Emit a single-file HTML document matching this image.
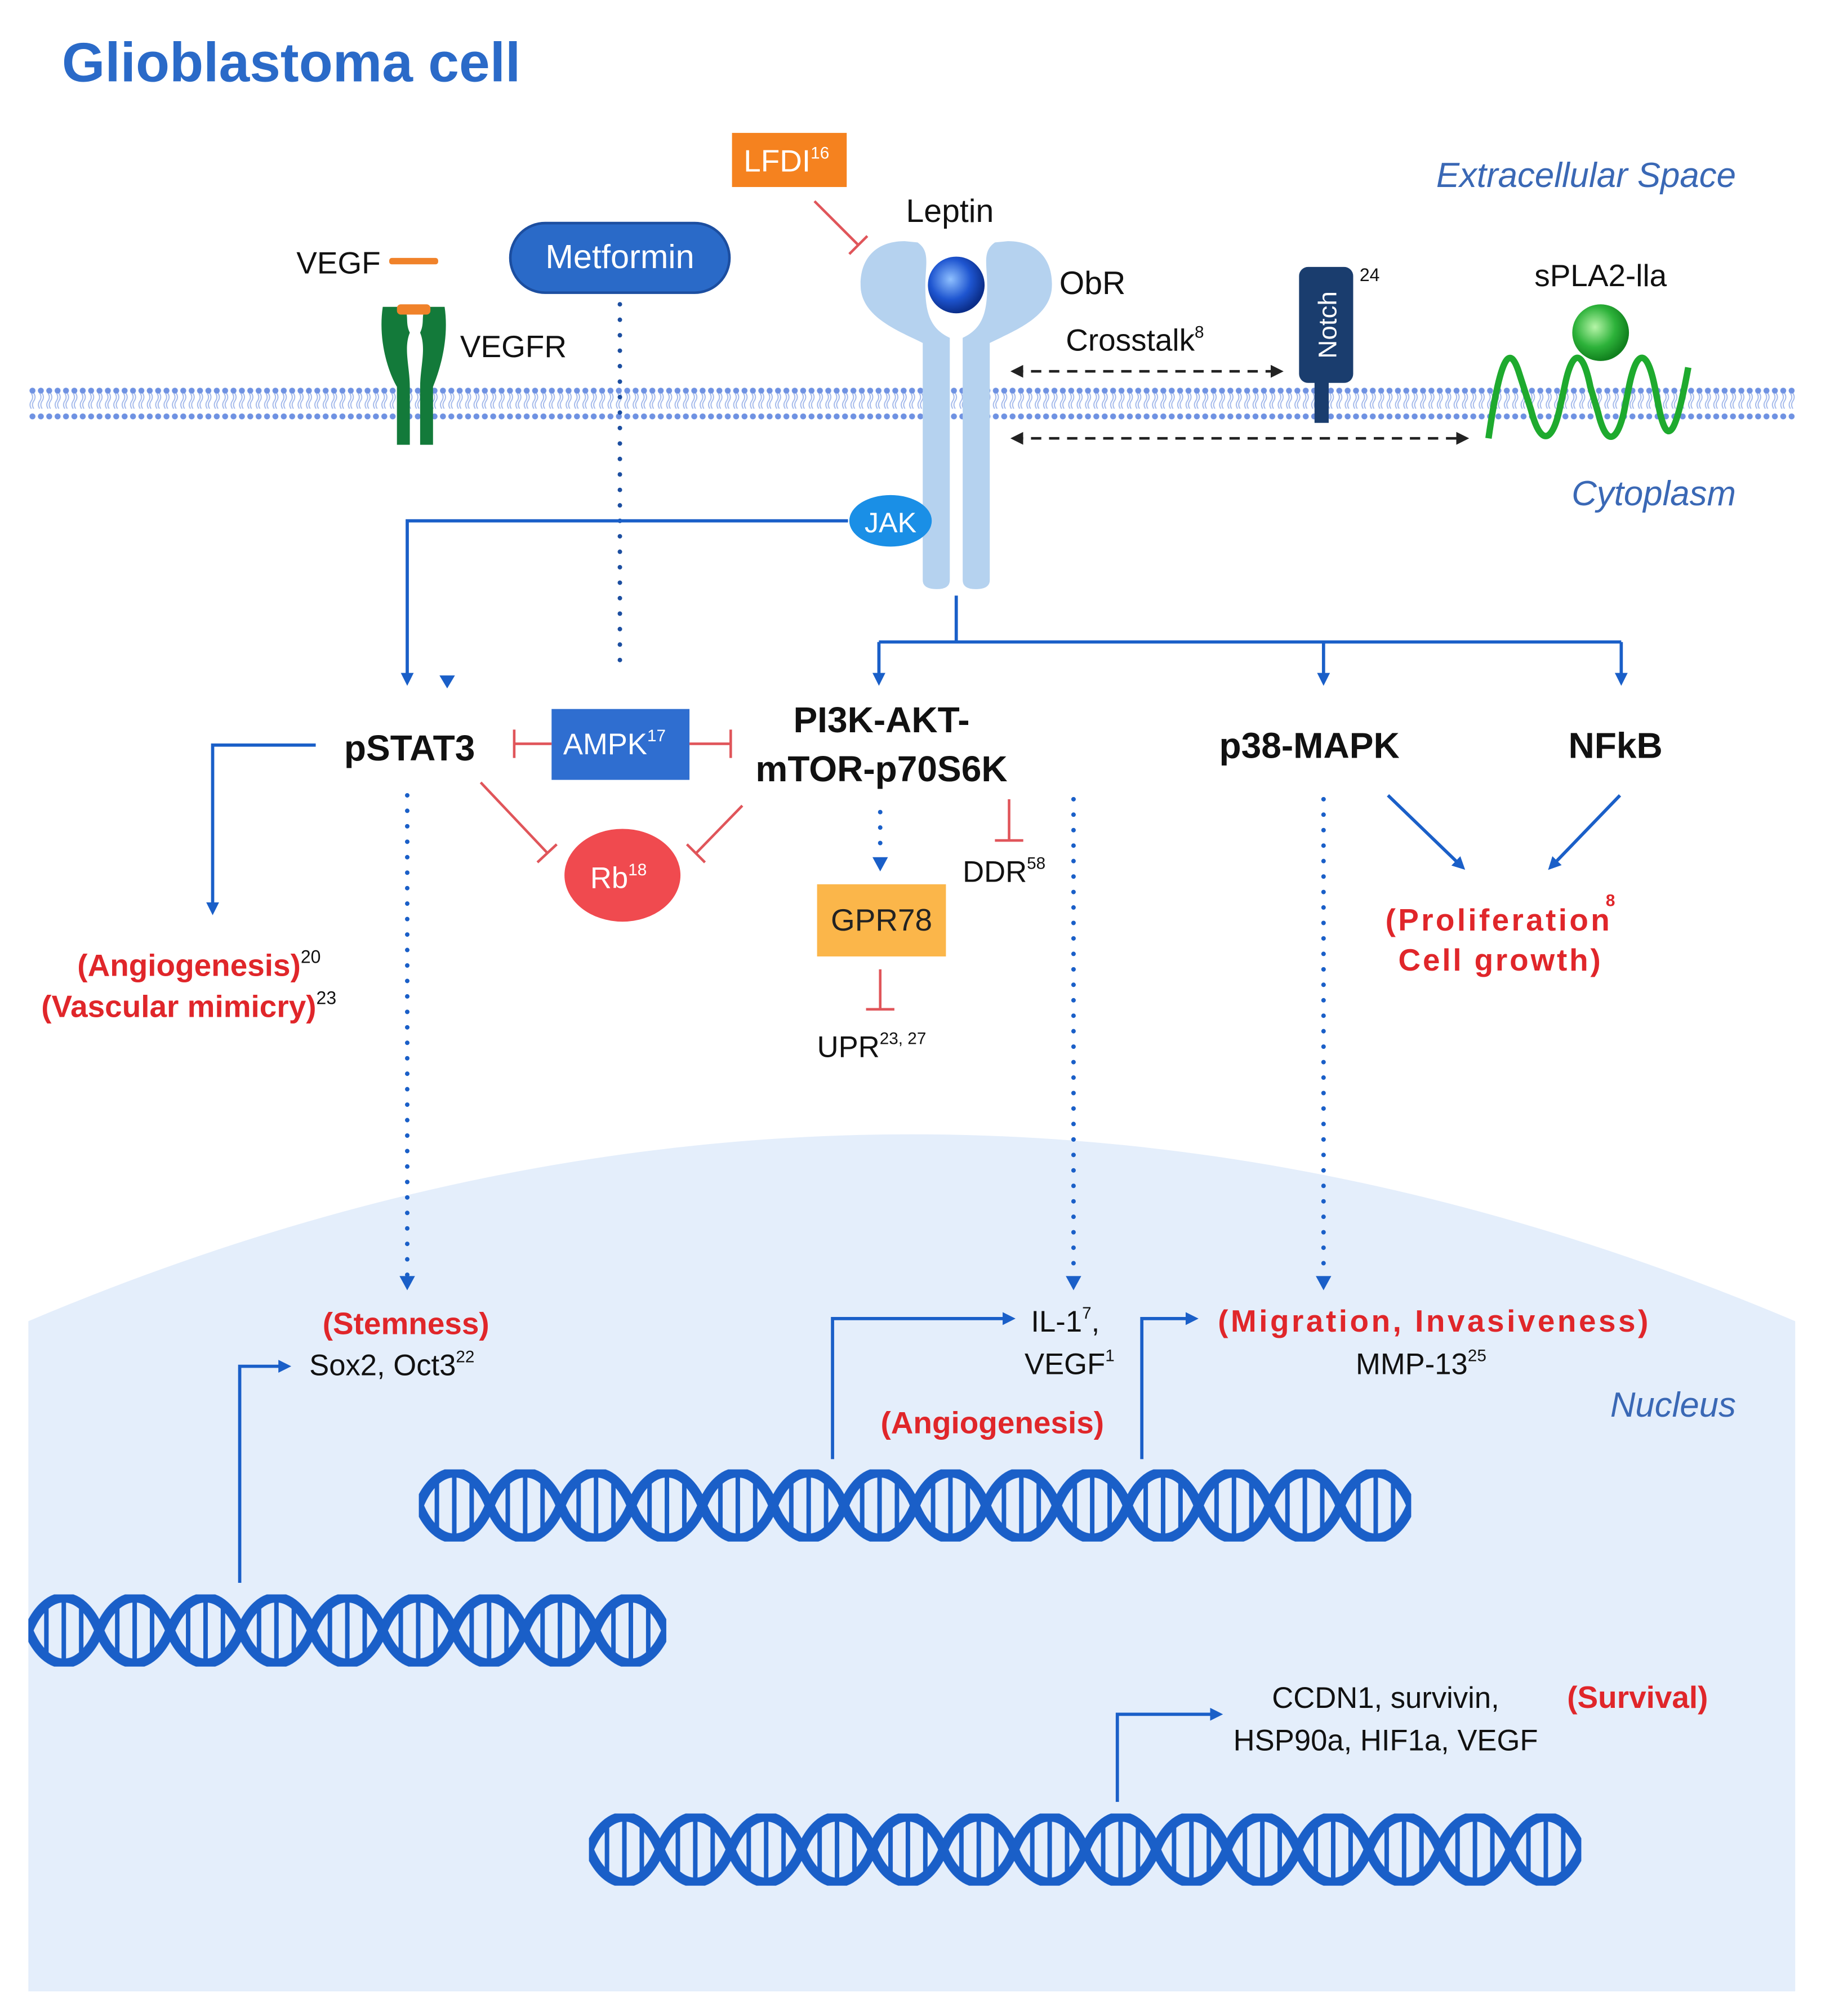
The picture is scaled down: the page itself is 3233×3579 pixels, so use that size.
<!DOCTYPE html>
<html><head><meta charset="utf-8"><style>
html,body{margin:0;padding:0;background:#fff;}
svg{display:block;}
text{font-family:"Liberation Sans",sans-serif;}
</style></head><body>
<svg width="3233" height="3579" viewBox="0 0 1413 1564" xmlns="http://www.w3.org/2000/svg">
<defs>
<pattern id="mem" patternUnits="userSpaceOnUse" x="22" y="300" width="6.5" height="26">
<circle cx="3.2" cy="3" r="2.3" fill="#6f92e2"/>
<circle cx="3.2" cy="23" r="2.3" fill="#6f92e2"/>
<path d="M2.3,5 q2,3 0,6 q-2,3 0,6 M4.2,5 q2,3 0,6 q-2,3 0,6" stroke="#9fb6ea" stroke-width="0.8" fill="none"/>
</pattern>
<pattern id="dna1" patternUnits="userSpaceOnUse" x="325" y="1140" width="55" height="56">
<path d="M0,28 C14,-6 41,-6 55,28 M0,28 C14,62 41,62 55,28" stroke="#1a5fc8" stroke-width="7.5" fill="none"/>
<path d="M14,9 V47 M27.5,5 V51 M41,9 V47" stroke="#1a5fc8" stroke-width="3.5"/>
</pattern>
<pattern id="dna2" patternUnits="userSpaceOnUse" x="22" y="1237" width="55" height="56">
<path d="M0,28 C14,-6 41,-6 55,28 M0,28 C14,62 41,62 55,28" stroke="#1a5fc8" stroke-width="7.5" fill="none"/>
<path d="M14,9 V47 M27.5,5 V51 M41,9 V47" stroke="#1a5fc8" stroke-width="3.5"/>
</pattern>
<pattern id="dna3" patternUnits="userSpaceOnUse" x="457" y="1407" width="55" height="56">
<path d="M0,28 C14,-6 41,-6 55,28 M0,28 C14,62 41,62 55,28" stroke="#1a5fc8" stroke-width="7.5" fill="none"/>
<path d="M14,9 V47 M27.5,5 V51 M41,9 V47" stroke="#1a5fc8" stroke-width="3.5"/>
</pattern>
<marker id="ab" markerWidth="10" markerHeight="10" refX="6" refY="5" orient="auto" markerUnits="userSpaceOnUse">
<path d="M0,0 L10,5 L0,10 Z" fill="#1a5fc8"/></marker>
<marker id="ak" markerWidth="10" markerHeight="10" refX="8" refY="5" orient="auto-start-reverse" markerUnits="userSpaceOnUse">
<path d="M0,0 L10,5 L0,10 Z" fill="#222"/></marker>
<radialGradient id="gb" cx="0.4" cy="0.4" r="0.6"><stop offset="0" stop-color="#8fc0ff"/><stop offset="0.6" stop-color="#1e55d0"/><stop offset="1" stop-color="#0b2e8a"/></radialGradient>
<radialGradient id="gg" cx="0.4" cy="0.4" r="0.6"><stop offset="0" stop-color="#b6f5a8"/><stop offset="0.6" stop-color="#2db23a"/><stop offset="1" stop-color="#11811e"/></radialGradient>
</defs>

<path d="M22,1025 Q707,735 1393,1025 L1393,1545 L22,1545 Z" fill="#e4eefb"/>

<text x="48" y="63" font-size="43" font-weight="bold" fill="#2a6ac8">Glioblastoma cell</text>
<g font-size="27" font-style="italic" fill="#3a68b5" text-anchor="end">
<text x="1347" y="145">Extracellular Space</text>
<text x="1347" y="392">Cytoplasm</text>
<text x="1347" y="1099">Nucleus</text>
</g>

<rect x="22" y="300" width="1371" height="26" fill="url(#mem)"/>

<text x="230" y="212" font-size="24" fill="#111">VEGF</text>
<rect x="302" y="200" width="38" height="5" rx="2" fill="#f0822a"/>
<path d="M297,238 C293,265 302,290 308,300 L308,345 L318,345 L318,300 C318,285 313,270 318,258 C314,250 318,244 313,238 Z" fill="#137a3a"/>
<path d="M345,238 C349,265 340,290 336,300 L336,345 L326,345 L326,300 C326,285 331,270 326,258 C330,250 326,244 331,238 Z" fill="#137a3a"/>
<rect x="308" y="236" width="26" height="8" rx="3" fill="#f0822a"/>
<text x="357" y="277" font-size="24" fill="#111">VEGFR</text>

<rect x="396" y="173" width="170" height="54" rx="27" fill="#2a6ac8" stroke="#1c4ea0" stroke-width="2"/>
<text x="481" y="208" font-size="26" fill="#fff" text-anchor="middle">Metformin</text>
<line x1="481" y1="236" x2="481" y2="520" stroke="#1c4ea0" stroke-width="3.5" stroke-linecap="round" stroke-dasharray="0 12"/>

<rect x="568" y="103" width="89" height="42" fill="#f5821f"/>
<text x="577" y="133" font-size="24" fill="#fff">LFDI<tspan font-size="13" dy="-10">16</tspan></text>
<line x1="632" y1="156" x2="666" y2="190" stroke="#e0555a" stroke-width="2"/>
<line x1="659" y1="197" x2="673" y2="183" stroke="#e0555a" stroke-width="2"/>

<text x="703" y="172" font-size="25" fill="#111">Leptin</text>
<path d="M702,187 C676,187 666,205 668,225 C671,247 698,257 716,266 L716,450 Q716,457 727,457 Q737,457 737,450 L737,262 C722,255 718,243 718,222 C718,205 722,195 712,188 Z" fill="#b5d2ef"/>
<path d="M782,187 C808,187 818,205 816,225 C813,247 786,257 768,266 L768,450 Q768,457 757,457 Q747,457 747,450 L747,262 C762,255 766,243 766,222 C766,205 762,195 772,188 Z" fill="#b5d2ef"/>
<circle cx="742" cy="221" r="22" fill="url(#gb)"/>
<text x="822" y="228" font-size="25" fill="#111">ObR</text>
<text x="827" y="272" font-size="24" fill="#111">Crosstalk<tspan font-size="13" dy="-10">8</tspan></text>
<line x1="786" y1="288" x2="994" y2="288" stroke="#222" stroke-width="2" stroke-dasharray="8 6" marker-start="url(#ak)" marker-end="url(#ak)"/>
<line x1="786" y1="340" x2="1138" y2="340" stroke="#222" stroke-width="2" stroke-dasharray="8 6" marker-start="url(#ak)" marker-end="url(#ak)"/>

<rect x="1020" y="290" width="11" height="38" fill="#1a3d6e"/>
<rect x="1008" y="207" width="42" height="90" rx="7" fill="#1a3d6e"/>
<text transform="translate(1037,252) rotate(-90)" font-size="20" fill="#fff" text-anchor="middle">Notch</text>
<text x="1055" y="218" font-size="14" fill="#111">24</text>

<text x="1242" y="222" font-size="24" fill="#111" text-anchor="middle">sPLA2-lla</text>
<circle cx="1242" cy="258" r="22" fill="url(#gg)"/>
<path d="M1155,340 C1165,270 1172,270 1178,287 L1188,318 C1195,345 1204,345 1210,318 L1214,300 C1220,270 1228,270 1234,300 L1240,320 C1246,345 1254,345 1260,320 L1264,300 C1270,270 1278,270 1284,300 L1288,320 C1294,345 1300,340 1310,285" stroke="#1eaa2e" stroke-width="5" fill="none"/>

<polyline points="658,404 316,404 316,528" stroke="#1a5fc8" stroke-width="2.5" fill="none" marker-end="url(#ab)"/>
<path d="M341,524 L353,524 L347,534 Z" fill="#1a5fc8"/>
<ellipse cx="691" cy="404" rx="32" ry="20" fill="#1a8fe6"/>
<text x="691" y="413" font-size="22" fill="#fff" text-anchor="middle">JAK</text>

<g stroke="#1a5fc8" stroke-width="2.5" fill="none">
<polyline points="742,462 742,498"/>
<polyline points="682,498 1258,498"/>
<line x1="682" y1="498" x2="682" y2="528" marker-end="url(#ab)"/>
<line x1="1027" y1="498" x2="1027" y2="528" marker-end="url(#ab)"/>
<line x1="1258" y1="498" x2="1258" y2="528" marker-end="url(#ab)"/>
</g>

<g font-size="28" font-weight="bold" fill="#111">
<text x="267" y="590">pSTAT3</text>
<text x="684" y="568" text-anchor="middle">PI3K-AKT-</text>
<text x="684" y="606" text-anchor="middle">mTOR-p70S6K</text>
<text x="946" y="588">p38-MAPK</text>
<text x="1217" y="588">NFkB</text>
</g>

<rect x="428" y="550" width="107" height="55" fill="#2f6ed0"/>
<text x="437" y="585" font-size="23" fill="#fff">AMPK<tspan font-size="13" dy="-10">17</tspan></text>
<g stroke="#e0555a" stroke-width="2" fill="none">
<line x1="428" y1="577" x2="399" y2="577"/><line x1="399" y1="566" x2="399" y2="588"/>
<line x1="535" y1="577" x2="567" y2="577"/><line x1="567" y1="566" x2="567" y2="588"/>
<line x1="373" y1="607" x2="425" y2="662"/><line x1="417" y1="669" x2="432" y2="655"/>
<line x1="576" y1="625" x2="540" y2="662"/><line x1="533" y1="655" x2="547" y2="669"/>
<line x1="683" y1="752" x2="683" y2="783"/><line x1="672" y1="783" x2="694" y2="783"/>
<line x1="783" y1="620" x2="783" y2="652"/><line x1="772" y1="652" x2="794" y2="652"/>
</g>
<ellipse cx="483" cy="679" rx="45" ry="36" fill="#f04a4f"/>
<text x="458" y="689" font-size="23" fill="#fff">Rb<tspan font-size="13" dy="-10">18</tspan></text>

<polyline points="245,578 165,578 165,706" stroke="#1a5fc8" stroke-width="2.5" fill="none" marker-end="url(#ab)"/>
<g font-size="24" font-weight="bold" fill="#e0262a">
<text x="60" y="757">(Angiogenesis)<tspan font-size="14" font-weight="normal" fill="#111" dy="-10">20</tspan></text>
<text x="32" y="789">(Vascular mimicry)<tspan font-size="14" font-weight="normal" fill="#111" dy="-10">23</tspan></text>
</g>

<g stroke="#1a5fc8" stroke-width="3.5" stroke-linecap="round" stroke-dasharray="0 12" fill="none">
<line x1="316" y1="617" x2="316" y2="990"/>
<line x1="683" y1="630" x2="683" y2="664"/>
<line x1="833" y1="620" x2="833" y2="990"/>
<line x1="1027" y1="620" x2="1027" y2="990"/>
</g>
<g fill="#1a5fc8">
<path d="M310,990 L322,990 L316,1001 Z"/>
<path d="M677,665 L689,665 L683,676 Z"/>
<path d="M827,990 L839,990 L833,1001 Z"/>
<path d="M1021,990 L1033,990 L1027,1001 Z"/>
</g>

<rect x="634" y="686" width="100" height="56" fill="#fbb64a"/>
<text x="684" y="722" font-size="24" fill="#222" text-anchor="middle">GPR78</text>
<text x="634" y="820" font-size="23" fill="#111">UPR<tspan font-size="13" dy="-10">23, 27</tspan></text>
<text x="747" y="684" font-size="23" fill="#111">DDR<tspan font-size="13" dy="-10">58</tspan></text>

<line x1="1077" y1="617" x2="1134" y2="672" stroke="#1a5fc8" stroke-width="2.5" marker-end="url(#ab)"/>
<line x1="1257" y1="617" x2="1204" y2="672" stroke="#1a5fc8" stroke-width="2.5" marker-end="url(#ab)"/>
<g font-size="24" font-weight="bold" fill="#e0262a">
<text x="1075" y="722" textLength="174">(Proliferation</text>
<text x="1246" y="703" font-size="13">8</text>
<text x="1085" y="753" textLength="157">Cell growth)</text>
</g>

<text x="315" y="1035" font-size="24" font-weight="bold" fill="#e0262a" text-anchor="middle">(Stemness)</text>
<text x="240" y="1067" font-size="23" fill="#111">Sox2, Oct3<tspan font-size="13" dy="-10">22</tspan></text>
<text x="800" y="1033" font-size="23" fill="#111">IL-1<tspan font-size="13" dy="-10">7</tspan><tspan dy="10">,</tspan></text>
<text x="795" y="1066" font-size="23" fill="#111">VEGF<tspan font-size="13" dy="-10">1</tspan></text>
<text x="770" y="1112" font-size="24" font-weight="bold" fill="#e0262a" text-anchor="middle">(Angiogenesis)</text>
<text x="945" y="1033" font-size="24" font-weight="bold" fill="#e0262a" textLength="334">(Migration, Invasiveness)</text>
<text x="1052" y="1066" font-size="23" fill="#111">MMP-13<tspan font-size="13" dy="-10">25</tspan></text>
<text x="987" y="1325" font-size="23" fill="#111">CCDN1, survivin,</text>
<text x="1216" y="1325" font-size="24" font-weight="bold" fill="#e0262a">(Survival)</text>
<text x="957" y="1358" font-size="23" fill="#111">HSP90a, HIF1a, VEGF</text>

<g stroke="#1a5fc8" stroke-width="2.5" fill="none">
<polyline points="186,1228 186,1060 222,1060" marker-end="url(#ab)"/>
<polyline points="646,1132 646,1023 784,1023" marker-end="url(#ab)"/>
<polyline points="886,1132 886,1023 926,1023" marker-end="url(#ab)"/>
<polyline points="867,1398 867,1330 945,1330" marker-end="url(#ab)"/>
</g>

<rect x="325" y="1140" width="770" height="56" fill="url(#dna1)"/>
<rect x="22" y="1237" width="495" height="56" fill="url(#dna2)"/>
<rect x="457" y="1407" width="770" height="56" fill="url(#dna3)"/>
</svg>
</body></html>
